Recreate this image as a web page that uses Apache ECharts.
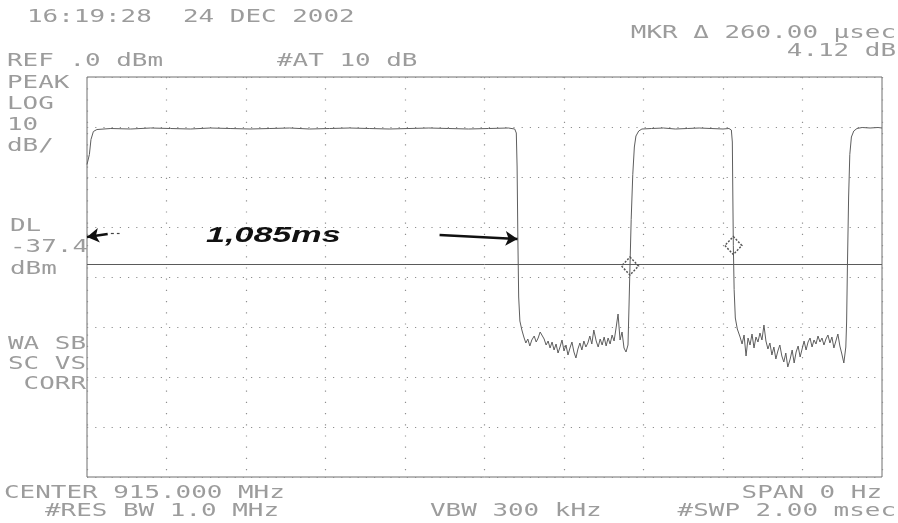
<!DOCTYPE html>
<html><head><meta charset="utf-8">
<script src="https://cdn.jsdelivr.net/npm/echarts@6/dist/echarts.min.js"></script>
<style>html,body{margin:0;padding:0;background:#fff}#c{width:898px;height:523px}</style>
</head><body><div id="c"></div><script>
// ---- data (sweep time in ms, level in dBm) ----
const pulse1 = [[0.000,-17.5],[0.006,-15.5],[0.010,-12.5],[0.016,-10.9],[0.025,-10.5],[0.060,-10.3],[0.110,-10.4],[0.160,-10.2],[0.210,-10.3],[0.260,-10.4],[0.310,-10.2],[0.360,-10.3],[0.410,-10.4],[0.460,-10.3],[0.510,-10.2],[0.560,-10.4],[0.610,-10.3],[0.660,-10.2],[0.710,-10.3],[0.760,-10.4],[0.810,-10.3],[0.860,-10.2],[0.910,-10.3],[0.960,-10.4],[1.010,-10.3],[1.060,-10.2],[1.076,-10.4],[1.080,-11.2],[1.082,-18.0],[1.084,-32.6],[1.086,-44.0],[1.089,-48.8],[1.094,-50.6]];
const floor1 = [[1.099,-52.0],[1.104,-53.2],[1.109,-52.4],[1.114,-53.8],[1.119,-52.6],[1.125,-51.8],[1.130,-53.0],[1.135,-52.2],[1.140,-51.0],[1.145,-50.8],[1.150,-52.4],[1.155,-53.6],[1.160,-52.8],[1.165,-54.2],[1.170,-53.0],[1.175,-54.6],[1.180,-53.4],[1.185,-55.2],[1.190,-54.0],[1.195,-52.6],[1.200,-54.8],[1.205,-53.6],[1.210,-55.6],[1.215,-54.2],[1.220,-53.0],[1.225,-55.0],[1.230,-56.2],[1.235,-54.4],[1.240,-53.2],[1.245,-54.6],[1.250,-52.8],[1.255,-54.0],[1.260,-53.2],[1.265,-51.8],[1.270,-53.4],[1.275,-50.6],[1.281,-52.8],[1.286,-54.0],[1.291,-52.4],[1.296,-53.6],[1.301,-52.0],[1.306,-53.8],[1.311,-52.2],[1.316,-53.4],[1.321,-51.6],[1.326,-52.8],[1.331,-50.2],[1.336,-47.4],[1.341,-52.6],[1.346,-51.0],[1.351,-54.2],[1.356,-55.0],[1.361,-53.6]];
const pulse2 = [[1.3635,-46.0],[1.366,-37.8],[1.369,-28.5],[1.373,-19.5],[1.377,-14.0],[1.381,-11.8],[1.388,-10.8],[1.396,-10.4],[1.420,-10.3],[1.450,-10.2],[1.480,-10.4],[1.510,-10.3],[1.540,-10.2],[1.570,-10.3],[1.600,-10.4],[1.615,-10.3],[1.621,-10.6],[1.6235,-13.0],[1.6248,-24.0],[1.626,-33.7],[1.628,-42.5],[1.631,-48.2],[1.636,-50.4]];
const floor2 = [[1.643,-52.0],[1.648,-53.4],[1.653,-51.6],[1.658,-55.8],[1.663,-52.2],[1.668,-53.6],[1.673,-51.4],[1.678,-54.2],[1.683,-52.0],[1.688,-53.0],[1.693,-51.2],[1.698,-52.6],[1.703,-49.6],[1.708,-52.8],[1.713,-54.4],[1.718,-53.2],[1.723,-55.6],[1.728,-54.0],[1.733,-56.4],[1.738,-54.8],[1.743,-53.6],[1.748,-55.8],[1.753,-57.0],[1.758,-55.2],[1.763,-58.0],[1.769,-56.4],[1.774,-54.6],[1.779,-57.2],[1.784,-55.0],[1.789,-53.8],[1.794,-56.0],[1.799,-54.4],[1.804,-52.8],[1.809,-54.6],[1.814,-53.0],[1.819,-52.2],[1.824,-54.0],[1.829,-52.6],[1.834,-53.4],[1.839,-51.8],[1.844,-53.0],[1.849,-52.2],[1.854,-53.6],[1.859,-52.4],[1.864,-51.6],[1.869,-53.2],[1.874,-52.0],[1.879,-54.2],[1.884,-52.8],[1.889,-51.4],[1.894,-53.8],[1.899,-55.4],[1.904,-57.2],[1.909,-54.0]];
const pulse3 = [[1.911,-49.0],[1.913,-38.0],[1.916,-24.0],[1.919,-15.5],[1.923,-12.0],[1.929,-10.8],[1.937,-10.3],[1.950,-10.1],[1.970,-10.2],[1.990,-10.1],[2.000,-10.2]];
const displayLineDbm = -37.4;
const markers = [[1.366,-37.8],[1.626,-33.7]];
const arrowRight = [[0.887,-31.6],[1.083,-32.4]];
const arrowLeft = [[0.052,-31.4],[0.000,-32.0]];
const arrowLeftTail = [[0.060,-31.3],[0.082,-31.3]];
const sweepMin = 0, sweepMax = 2, sweepStep = 0.2;
const levelMin = -80, levelMax = 0, levelStep = 10;
const headerTexts = {
  time: '16:19:28  24 DEC 2002', ref: 'REF .0 dBm', att: '#AT 10 dB',
  mkr: 'MKR \u0394 260.00 \u00b5sec', mkrDb: '4.12 dB'
};
const sideTexts = ['PEAK','LOG','10','dB/'];
const dlTexts = ['DL','-37.4','dBm'];
const modeTexts = ['WA SB','SC VS',' CORR'];
const footerTexts = { center:'CENTER 915.000 MHz', res:'#RES BW 1.0 MHz', vbw:'VBW 300 kHz', span:'SPAN 0 Hz', swp:'#SWP 2.00 msec' };
const handNote = '1,085ms';

// ---- build ----
const trace = [].concat(pulse1, floor1, pulse2, floor2, pulse3);
const PITCH = 15.6, FS = 17, FONT = '"DejaVu Sans Mono"';
const SX = PITCH / (0.602 * FS);
const GRAY = '#9c9c9c';
function label(str, x, y, align) {
  return { type:'text', x:x, y:y, scaleX:SX, silent:true,
    style:{ text:str, font: FS + 'px ' + FONT, fill:GRAY,
      textAlign: align || 'left', textVerticalAlign:'middle', align: align || 'left', verticalAlign:'middle' } };
}
const graphics = [
  label(headerTexts.time, 27, 18),
  label(headerTexts.ref, 7, 62),
  label(headerTexts.att, 277, 62),
  label(headerTexts.mkr, 896, 34, 'right'),
  label(headerTexts.mkrDb, 896, 52, 'right'),
  label(sideTexts[0], 7, 84), label(sideTexts[1], 7, 105), label(sideTexts[2], 7, 126), label(sideTexts[3], 7, 147),
  label(dlTexts[0], 10, 227), label(dlTexts[1], 10, 248), label(dlTexts[2], 10, 270),
  label(modeTexts[0], 8, 345), label(modeTexts[1], 8, 365), label(modeTexts[2], 8, 385),
  label(footerTexts.center, 4, 494),
  label(footerTexts.res, 45, 512),
  label(footerTexts.vbw, 430, 512),
  label(footerTexts.span, 882, 494, 'right'),
  label(footerTexts.swp, 896, 512, 'right'),
  { type:'text', x:206, y:236, scaleX:1.55, silent:true,
    style:{ text:handNote, font:'italic bold 22px "Liberation Sans"', fill:'#111',
      textAlign:'left', textVerticalAlign:'middle', align:'left', verticalAlign:'middle' } }
];

const chart = echarts.init(document.getElementById('c'), null, {renderer:'canvas'});
const axisCommon = { axisLine:{show:false}, axisTick:{show:false}, axisLabel:{show:false} };
chart.setOption({
  animation:false,
  backgroundColor:'#ffffff',
  grid:{ left:87, top:77, width:795, height:400, show:true, borderColor:'#6e6e6e', borderWidth:1, backgroundColor:'transparent' },
  xAxis:Object.assign({ type:'value', min:sweepMin, max:sweepMax, interval:sweepStep,
    splitLine:{ show:true, lineStyle:{ color:'#8f8f8f', width:1.2, type:[1.2,10] } } }, axisCommon),
  yAxis:Object.assign({ type:'value', min:levelMin, max:levelMax, interval:levelStep,
    splitLine:{ show:true, lineStyle:{ color:'#8f8f8f', width:1.2, type:[1.2,7] } } }, axisCommon),
  series:[
    { type:'line', data:trace, symbol:'none', showSymbol:false, silent:true,
      lineStyle:{ color:'#5e5e5e', width:1 },
      markLine:{ silent:true, symbol:['none','none'], label:{show:false},
        lineStyle:{ color:'#5a5a5a', type:'solid', width:1 },
        data:[ { yAxis: displayLineDbm } ] },
      markPoint:{ silent:true, symbol:'diamond', symbolSize:[17,18], label:{show:false},
        itemStyle:{ color:'rgba(255,255,255,0)', borderColor:'#555', borderWidth:1.5, borderType:[2,1.5] },
        data: markers.map(function(m){ return { coord:m }; }) }
    },
    { type:'line', data:[], silent:true,
      markLine:{ silent:true, symbol:['none','arrow'], symbolSize:[11,12], label:{show:false},
        lineStyle:{ color:'#111', type:'solid', width:2.6 },
        data:[
          [ { coord:arrowRight[0] }, { coord:arrowRight[1] } ],
          [ { coord:arrowLeft[0] }, { coord:arrowLeft[1] } ]
        ] } },
    { type:'line', data:[], silent:true,
      markLine:{ silent:true, symbol:['none','none'], label:{show:false},
        lineStyle:{ color:'#444', type:[3,3], width:1.2 },
        data:[ [ { coord:arrowLeftTail[0] }, { coord:arrowLeftTail[1] } ] ] } }
  ],
  graphic: graphics
});
</script></body></html>
